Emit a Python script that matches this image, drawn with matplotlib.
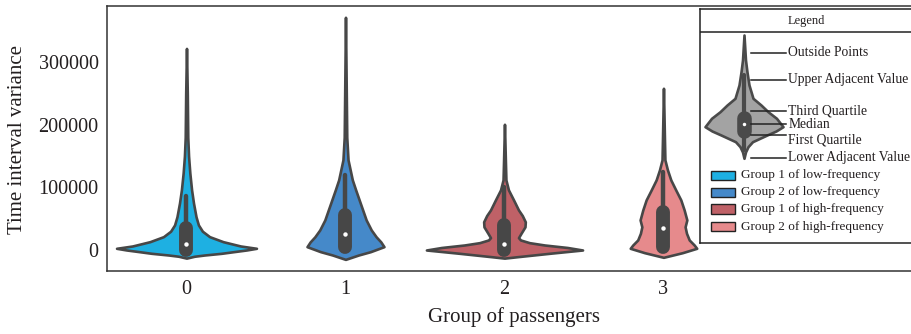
import numpy as np
import matplotlib
matplotlib.use("Agg")
import matplotlib.pyplot as plt
from matplotlib.patches import Rectangle

plt.rcParams["font.family"] = ["Liberation Serif", "DejaVu Serif"]

# groups and colours
groups = ["0", "1", "2", "3"]
colors = ["#1eb0e2", "#4589c9", "#bf6167", "#e68a8c"]
legend_labels = ["Group 1 of low-frequency", "Group 2 of low-frequency",
                 "Group 1 of high-frequency", "Group 2 of high-frequency"]

# violin outlines: value -> half width (category units)
vals_0 = [-13000, -10000, -8000, -5300, -2700, 0, 2700, 6400, 13300, 21300, 30000,
          40000, 53000, 75000, 96000, 123000, 150000, 180000, 250000, 322000]
half_0 = [0, .050, .113, .220, .296, .377, .440, .340, .230, .145, .100,
          .075, .060, .044, .032, .021, .013, .008, .005, 0]
vals_1 = [-15000, -8000, -2700, 5300, 13000, 21000, 32000, 48000, 64000, 80000,
          96000, 112000, 144000, 180000, 250000, 371700]
half_1 = [0, .082, .157, .242, .222, .193, .162, .130, .108, .086,
          .064, .043, .016, .008, .005, 0]
vals_2 = [-13000, -10700, -5300, 0, 4000, 8000, 11700, 16000, 19700, 26600, 37000,
          45000, 55000, 64000, 80000, 96000, 112000, 140000, 200800]
half_2 = [0, .082, .283, .491, .396, .252, .157, .101, .088, .104, .129,
          .131, .112, .088, .057, .025, .009, .006, 0]
vals_3 = [-11700, -4300, 2700, 8000, 16000, 26600, 37000, 48000, 64000, 80000,
          96000, 112000, 128000, 144000, 180000, 258300]
half_3 = [0, .119, .209, .193, .162, .145, .136, .147, .130, .109,
          .077, .046, .025, .009, .006, 0]
profile_vals = [vals_0, vals_1, vals_2, vals_3]
profile_half = [half_0, half_1, half_2, half_3]

# inner box statistics
q1 = [0, 5400, 0, 5400]
q3 = [34500, 56000, 40000, 61000]
medians = [9000, 25500, 9600, 34600]
whisk_lo = [0, 0, 0, 0]
whisk_hi = [87000, 120000, 100000, 125000]

yticks = [0, 100000, 200000, 300000]

edge = "#474747"
txt = "#231f20"

fig = plt.figure(figsize=(9.12, 3.34), dpi=100)
ax = fig.add_axes([107 / 912, 63.5 / 334, 808 / 912, 265 / 334])

for i in range(len(groups)):
    v = np.array(profile_vals[i])
    h = np.array(profile_half[i])
    ax.fill_betweenx(v, i - h, i + h, facecolor=colors[i], edgecolor=edge,
                     linewidth=1.9, joinstyle="round", zorder=2)
    ax.plot([i, i], [whisk_lo[i], whisk_hi[i]], color=edge, lw=3.2,
            solid_capstyle="round", zorder=3)
    ax.plot([i, i], [q1[i], q3[i]], color=edge, lw=10,
            solid_capstyle="round", zorder=3)
    ax.plot(i, medians[i], "o", color="white", ms=3.2, mec="none", zorder=4)

ax.set_xlim(-0.5, 4.582)
ax.set_ylim(-32760, 390540)
ax.set_xticks(range(len(groups)))
ax.set_xticklabels(groups)
ax.set_yticks(yticks)
ax.set_yticklabels([str(t) for t in yticks])
ax.tick_params(length=0, labelsize=14.5, colors=txt)
ax.tick_params(axis="y", pad=6)
ax.tick_params(axis="x", pad=7)
for s in ax.spines.values():
    s.set_color("#333333")
    s.set_linewidth(1.1)

fig.text(17.3 / 912, 1 - 139 / 334, "Time interval variance", rotation=90,
         ha="center", va="center", fontsize=15, color=txt)
fig.text(514 / 912, 1 - 317 / 334, "Group of passengers",
         ha="center", va="center", fontsize=15, color=txt)

# legend panel (drawn in pixel-like coordinates)
lg = fig.add_axes([700 / 912, 1 - 243 / 334, 213.4 / 912, (243 - 9.3) / 334])
lg.set_xlim(700, 913.4)
lg.set_ylim(243, 9.3)
lg.set_xticks([])
lg.set_yticks([])
for s in lg.spines.values():
    s.set_color("#222222")
    s.set_linewidth(1.1)
lg.axhline(31.7, color="#222222", lw=1.1)
lg.text(806.7, 21, "Legend", ha="center", va="center", fontsize=9, color=txt)

# schematic violin in the legend
leg_y = [35, 60, 72, 85, 98.3, 105, 111.7, 118.3, 126.7, 131, 135, 141.7, 146.7, 152, 158.3]
leg_w = [0, 1.5, 3, 5, 9, 17, 24, 32.5, 39, 32, 23, 8.5, 4, 1.5, 0]
lx = 744
ly = np.array(leg_y)
lw_ = np.array(leg_w)
lg.fill_betweenx(ly, lx - lw_, lx + lw_, facecolor="#a3a3a3", edgecolor="#4a4a4a",
                 linewidth=1.9, joinstyle="round", zorder=2)
lg.plot([lx, lx], [75, 150], color="#4a4a4a", lw=3, solid_capstyle="round", zorder=3)
lg.plot([lx, lx], [117.5, 130.8], color="#4a4a4a", lw=10.5, solid_capstyle="round", zorder=3)
lg.plot(lx, 124.3, "o", color="white", ms=2.5, mec="none", zorder=4)

ann_labels = ["Outside Points", "Upper Adjacent Value", "Third Quartile",
              "Median", "First Quartile", "Lower Adjacent Value"]
ann_line_y = [53, 80, 111, 124.3, 135, 158.3]
ann_text_y = [52.7, 80, 111, 124.3, 140, 157.3]
for lab, yl, yt in zip(ann_labels, ann_line_y, ann_text_y):
    lg.plot([751, 786], [yl, yl], color="#222222", lw=1.1, zorder=5)
    lg.text(788.3, yt, lab, ha="left", va="center", fontsize=9.8, color=txt)

patch_y = [175.3, 192.3, 209, 226.7]
for c, lab, yy in zip(colors, legend_labels, patch_y):
    lg.add_patch(Rectangle((711, yy - 4.6), 24, 9.2, facecolor=c,
                           edgecolor="#222222", lw=1.0))
    lg.text(740.7, yy, lab, ha="left", va="center", fontsize=9.5, color=txt)

fig.savefig("out.png", dpi=100)
